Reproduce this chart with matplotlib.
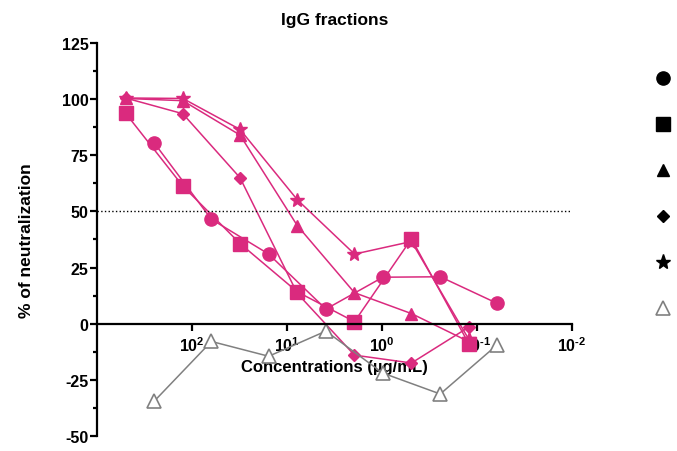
import matplotlib
matplotlib.use('Agg')
import matplotlib.pyplot as plt
from matplotlib.lines import Line2D
from matplotlib.ticker import FixedLocator, MultipleLocator

plt.rcParams['font.family'] = ['Liberation Sans', 'DejaVu Sans']
plt.rcParams['font.weight'] = 'bold'
plt.rcParams['mathtext.fontset'] = 'custom'
plt.rcParams['mathtext.rm'] = 'Liberation Sans:bold'
plt.rcParams['mathtext.bf'] = 'Liberation Sans:bold'
plt.rcParams['mathtext.default'] = 'bf'
plt.rcParams['axes.unicode_minus'] = False

# concentrations (ug/mL), two 4-fold dilution series
conc_a = [500, 125, 31.25, 7.8, 1.95, 0.49, 0.122]
conc_b = [250, 62.5, 15.6, 3.9, 0.98, 0.244, 0.061]

# % of neutralization
circle = [80.5, 46.5, 31, 6.5, 20.7, 20.9, 9]
square = [93.7, 61.3, 35.7, 14.2, 0.9, 37.8, -9]
triangle = [100.3, 99.3, 84, 43.7, 13.8, 4.5, -8]
diamond = [100.5, 93.5, 65, 13.5, -14, -17.5, -1.5]
star = [100.5, 100.3, 86.5, 55.2, 31, 36.6, -7]
open_tri = [-34.5, -7.9, -14.5, -3.3, -22, -31.3, -9.3]

x_ticks = [100, 10, 1, 0.1, 0.01]
x_ticklabels = [r'$10^{2}$', r'$10^{1}$', r'$10^{0}$',
                r'$10^{\text{-}1}$', r'$10^{\text{-}2}$']

pink = '#DA2A7E'
grey = '#808080'

fig = plt.figure(figsize=(6.77, 4.52), dpi=100)
ax = fig.add_axes([0.1433, 0.0332, 0.7017, 0.8695])

ax.plot(conc_b, circle, '-o', color=pink, lw=1.1, ms=9.5)
ax.plot(conc_a, square, '-s', color=pink, lw=1.1, ms=9.5)
ax.plot(conc_a, triangle, '-^', color=pink, lw=1.1, ms=8.5)
ax.plot(conc_a, diamond, '-D', color=pink, lw=1.1, ms=6.5)
ax.plot(conc_a, star, '-*', color=pink, lw=1.1, ms=10)
ax.plot(conc_b, open_tri, '-^', color=grey, lw=1.1, ms=9.5,
        markerfacecolor='white', markeredgewidth=1.2)

ax.axhline(50, color='black', ls=':', lw=1)

ax.set_xscale('log')
ax.set_xlim(1000, 0.01)
ax.set_ylim(-50, 125)

ax.spines['top'].set_visible(False)
ax.spines['right'].set_visible(False)
ax.spines['bottom'].set_position(('data', 0))
ax.spines['left'].set_linewidth(1.6)
ax.spines['bottom'].set_linewidth(1.6)

ax.xaxis.set_major_locator(FixedLocator(x_ticks))
ax.xaxis.set_minor_locator(FixedLocator([]))
ax.set_xticklabels(x_ticklabels)
ax.tick_params(axis='x', length=5, width=1.6, labelsize=11.5, pad=3)

ax.yaxis.set_major_locator(MultipleLocator(25))
ax.yaxis.set_minor_locator(MultipleLocator(12.5))
ax.tick_params(axis='y', which='major', length=5, width=1.6, labelsize=11.5, pad=1)
ax.tick_params(axis='y', which='minor', length=3, width=1.6)

ax.set_title('IgG fractions', fontsize=12.5, fontweight='bold', pad=14)
ax.set_xlabel('Concentrations (µg/mL)', fontsize=12, fontweight='bold', labelpad=4)
ax.set_ylabel('% of neutralization', fontsize=12.5, fontweight='bold', labelpad=20)

handles = [
    Line2D([], [], ls='', marker='o', color='black', ms=9.5),
    Line2D([], [], ls='', marker='s', color='black', ms=9.5),
    Line2D([], [], ls='', marker='^', color='black', ms=8.5),
    Line2D([], [], ls='', marker='D', color='black', ms=6.5),
    Line2D([], [], ls='', marker='*', color='black', ms=11),
    Line2D([], [], ls='', marker='^', color=grey, ms=9.5,
           markerfacecolor='white', markeredgewidth=1.2),
]
fig.legend(handles, [''] * 6, loc='upper left', bbox_to_anchor=(0.961, 0.851),
           frameon=False, labelspacing=2.3, handlelength=1, handletextpad=0,
           borderaxespad=0, fontsize=10)

fig.savefig('out.png', dpi=100)
